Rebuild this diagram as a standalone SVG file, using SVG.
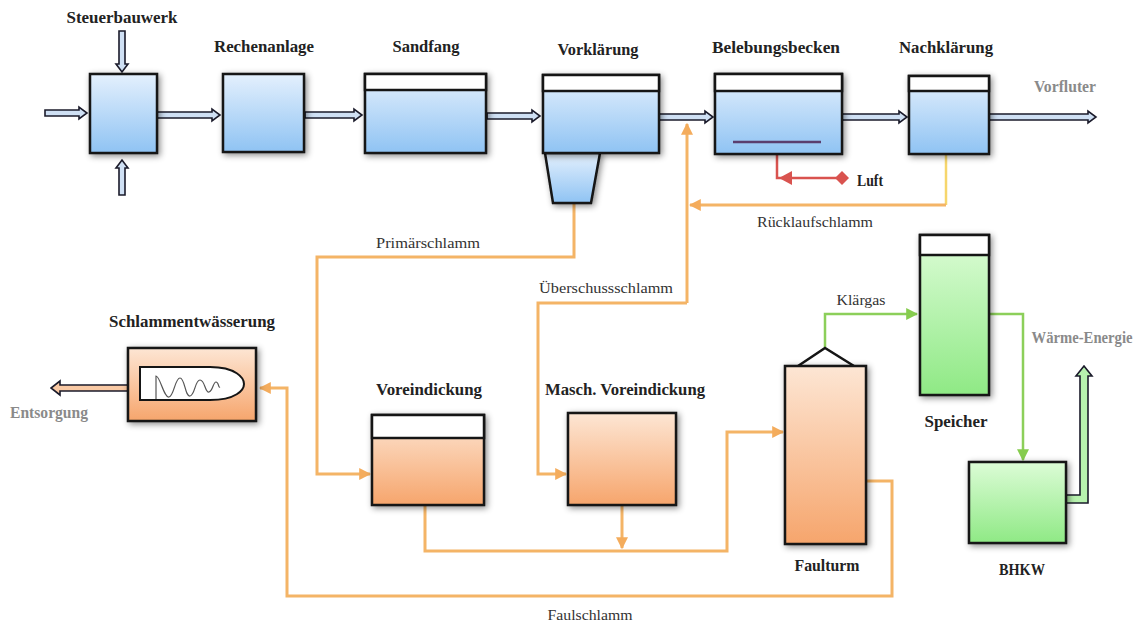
<svg xmlns="http://www.w3.org/2000/svg" width="1140" height="623" viewBox="0 0 1140 623">
<defs>
<linearGradient id="gB" x1="0" y1="0" x2="0" y2="1"><stop offset="0" stop-color="#e4f0fd"/><stop offset="1" stop-color="#8fc3f3"/></linearGradient>
<linearGradient id="gO" x1="0" y1="0" x2="0" y2="1"><stop offset="0" stop-color="#fde6d4"/><stop offset="1" stop-color="#f6a56c"/></linearGradient>
<linearGradient id="gG" x1="0" y1="0" x2="0" y2="1"><stop offset="0" stop-color="#dcfcd6"/><stop offset="1" stop-color="#8fe985"/></linearGradient>
<filter id="sh" x="-20%" y="-20%" width="140%" height="140%"><feDropShadow dx="2" dy="2" stdDeviation="3" flood-color="#000" flood-opacity="0.45"/></filter>
<marker id="mO" viewBox="0 0 10 10" refX="9" refY="5" markerWidth="12" markerHeight="12" markerUnits="userSpaceOnUse" orient="auto"><path d="M0 0 L10 5 L0 10 Z" fill="#f4ac5c"/></marker>
<marker id="mG" viewBox="0 0 10 10" refX="9" refY="5" markerWidth="12" markerHeight="12" markerUnits="userSpaceOnUse" orient="auto"><path d="M0 0 L10 5 L0 10 Z" fill="#86cc4e"/></marker>
</defs>
<style>
.box{stroke:#151515;stroke-width:2.5;filter:url(#sh)}
.b{fill:url(#gB)}
.o{fill:url(#gO)}
.g{fill:url(#gG)}
.band{fill:#fff;stroke:#151515;stroke-width:2.5}
.lbl{font-family:"Liberation Serif",serif;font-weight:bold;font-size:16px;fill:#222;text-anchor:middle}
.nl{font-family:"Liberation Serif",serif;font-size:15px;fill:#333;text-anchor:middle}
.gr{font-family:"Liberation Serif",serif;font-weight:bold;font-size:16px;fill:#8a8a8a;text-anchor:middle}
.ha{fill:#cfe0f4;stroke:#1b1b2b;stroke-width:1.6;stroke-linejoin:miter}
.or{fill:none;stroke:#f4b466;stroke-width:3}
.gl{fill:none;stroke:#8ccf5a;stroke-width:2.5}
</style>
<rect width="1140" height="623" fill="#fff"/>

<g id="connectors">
<path class="ha" d="M45 110 H79 V107 L87 113 L79 119 V116 H45 Z"/>
<path class="ha" d="M119 31 V64 H116 L122 72 L128 64 H125 V31 Z"/>
<path class="ha" d="M119 195 V168 H116 L122 160 L128 168 H125 V195 Z"/>
<path class="ha" d="M157 112 H212 V109 L220 115 L212 121 V118 H157 Z"/>
<path class="ha" d="M305 112 H354 V109 L362 115 L354 121 V118 H305 Z"/>
<path class="ha" d="M487 113 H532 V110 L540 116 L532 122 V119 H487 Z"/>
<path class="ha" d="M659 114 H705 V111 L713 117 L705 123 V120 H659 Z"/>
<path class="ha" d="M842 114 H899 V111 L907 117 L899 123 V120 H842 Z"/>
<path class="ha" d="M989 114 H1088 V111 L1096 117 L1088 123 V120 H989 Z"/>
<path d="M128 385 H60 V381 L51 388 L60 395 V391 H128 Z" fill="#f9c9a4" stroke="#1b1b2b" stroke-width="1.6"/>
<path d="M1066 495 H1080 V376 H1076 L1084 366 L1092 376 H1088 V503 H1066 Z" fill="#b7f2ae" stroke="#1b1b2b" stroke-width="1.6"/>

<path d="M946 155 V205" fill="none" stroke="#f6d66c" stroke-width="2.5"/>
<path class="or" d="M946 205 H690" marker-end="url(#mO)"/>
<path class="or" d="M687 303 V124" marker-end="url(#mO)"/>
<path class="or" d="M687 303 H538 V474 H566" marker-end="url(#mO)"/>
<path class="or" d="M574 204 V257 H317 V474 H370" marker-end="url(#mO)"/>
<path class="or" d="M425 505 V551 H727 V432 H783" marker-end="url(#mO)"/>
<path class="or" d="M622 505 V548" marker-end="url(#mO)"/>
<path class="or" d="M866 481 H892 V596 H287 V388 H260" marker-end="url(#mO)"/>

<path class="gl" d="M825 347 V314 H917" marker-end="url(#mG)"/>
<path class="gl" d="M989 314 H1023 V460" marker-end="url(#mG)"/>

<path d="M777 143 V178 H838" fill="none" stroke="#d9534f" stroke-width="2.5"/>
<path d="M779 178 L792 171 L792 185 Z" fill="#d9534f"/>
<path d="M842 171 L849 178 L842 185 L835 178 Z" fill="#d9534f"/>
</g>

<g id="steuerbauwerk">
<rect class="box b" x="90" y="74" width="67" height="79"/>
<text class="lbl" x="122" y="23" textLength="111" lengthAdjust="spacingAndGlyphs">Steuerbauwerk</text>
</g>
<g id="rechenanlage">
<rect class="box b" x="223" y="74" width="81" height="78"/>
<text class="lbl" x="264" y="52" textLength="100" lengthAdjust="spacingAndGlyphs">Rechenanlage</text>
</g>
<g id="sandfang">
<rect class="box b" x="365" y="74" width="121" height="79"/>
<rect class="band" x="365" y="74" width="121" height="16"/>
<text class="lbl" x="426" y="52" textLength="67" lengthAdjust="spacingAndGlyphs">Sandfang</text>
</g>
<g id="vorklaerung">
<path class="box b" d="M545 153 H600 L591 203 H553 Z"/>
<rect class="box b" x="543" y="75" width="116" height="78"/>
<rect class="band" x="543" y="75" width="116" height="16"/>
<text class="lbl" x="598" y="55" textLength="81" lengthAdjust="spacingAndGlyphs">Vorklärung</text>
</g>
<g id="belebungsbecken">
<rect class="box b" x="715" y="74" width="127" height="80"/>
<rect class="band" x="715" y="74" width="127" height="17"/>
<line x1="733" y1="142" x2="821" y2="142" stroke="#5a3e6e" stroke-width="2.5"/>
<text class="lbl" x="776" y="53" textLength="128" lengthAdjust="spacingAndGlyphs">Belebungsbecken</text>
<text class="lbl" x="870" y="186" textLength="26" lengthAdjust="spacingAndGlyphs">Luft</text>
</g>
<g id="nachklaerung">
<rect class="box b" x="909" y="76" width="80" height="78"/>
<rect class="band" x="909" y="76" width="80" height="15"/>
<text class="lbl" x="946" y="53" textLength="94" lengthAdjust="spacingAndGlyphs">Nachklärung</text>
<text class="gr" x="1065" y="92" textLength="62" lengthAdjust="spacingAndGlyphs">Vorfluter</text>
</g>
<g id="labels">
<text class="nl" x="815" y="227" textLength="116" lengthAdjust="spacingAndGlyphs">Rücklaufschlamm</text>
<text class="nl" x="428" y="248" textLength="104" lengthAdjust="spacingAndGlyphs">Primärschlamm</text>
<text class="nl" x="606" y="293" textLength="134" lengthAdjust="spacingAndGlyphs">Überschussschlamm</text>
<text class="nl" x="590" y="620" textLength="85" lengthAdjust="spacingAndGlyphs">Faulschlamm</text>
<text class="nl" x="861" y="305" textLength="49" lengthAdjust="spacingAndGlyphs">Klärgas</text>
</g>
<g id="schlammentwaesserung">
<rect class="box o" x="128" y="348" width="128" height="73"/>
<path d="M140 367 H210 C236 367 244 378 244 384 C244 390 236 400 210 400 H140 Z" fill="#fff" stroke="#151515" stroke-width="2"/>
<path d="M156 399 V376 C160 376 164 398 169 397 C174 396 175 378 180 378 C185 378 185 397 190 396 C195 395 195 380 200 380 C205 380 205 393 209 392 C213 391 213 382 216 382 C219 382 218 388 220 387" fill="none" stroke="#555" stroke-width="1.2"/>
<text class="lbl" x="192" y="327" textLength="166" lengthAdjust="spacingAndGlyphs">Schlammentwässerung</text>
<text class="gr" x="49" y="418" textLength="78" lengthAdjust="spacingAndGlyphs">Entsorgung</text>
</g>
<g id="voreindickung">
<rect class="box o" x="372" y="415" width="112" height="90"/>
<rect class="band" x="372" y="415" width="112" height="23"/>
<text class="lbl" x="429" y="395" textLength="106" lengthAdjust="spacingAndGlyphs">Voreindickung</text>
</g>
<g id="masch-voreindickung">
<rect class="box o" x="568" y="413" width="108" height="92"/>
<text class="lbl" x="625" y="395" textLength="160" lengthAdjust="spacingAndGlyphs">Masch. Voreindickung</text>
</g>
<g id="faulturm">
<path d="M798 366 L825 348 L854 366" fill="none" stroke="#151515" stroke-width="2.5"/>
<rect class="box o" x="785" y="366" width="81" height="178"/>
<text class="lbl" x="827" y="571" textLength="65" lengthAdjust="spacingAndGlyphs">Faulturm</text>
</g>
<g id="speicher">
<rect class="box g" x="920" y="235" width="69" height="160"/>
<rect class="band" x="920" y="235" width="69" height="20"/>
<text class="lbl" x="956" y="427" textLength="63" lengthAdjust="spacingAndGlyphs">Speicher</text>
<text class="gr" x="1082" y="343" textLength="101" lengthAdjust="spacingAndGlyphs">Wärme-Energie</text>
</g>
<g id="bhkw">
<rect class="box g" x="969" y="462" width="97" height="81"/>
<text class="lbl" x="1022" y="575" textLength="46" lengthAdjust="spacingAndGlyphs">BHKW</text>
</g>
</svg>
